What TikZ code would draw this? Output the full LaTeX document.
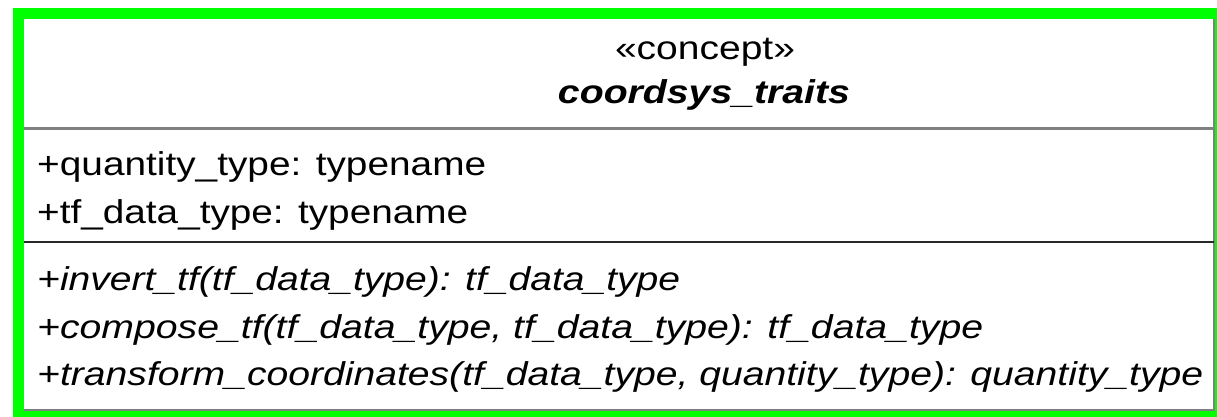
\documentclass[tikz,border=0pt]{standalone}
\usepackage{fontspec}
\setmainfont{Liberation Sans}
\usepackage{graphicx}
\definecolor{framegreen}{RGB}{0,255,0}
\definecolor{sepgray}{RGB}{128,128,128}
\definecolor{sepdark}{RGB}{40,40,40}
\begin{document}
\begin{tikzpicture}[x=1pt,y=-1pt,
  txt/.style={inner sep=0pt, font=\fontsize{33}{40}\selectfont},
  lefttxt/.style={txt, anchor=base west},
  midtxt/.style={txt, anchor=base}]
\useasboundingbox (0,0) rectangle (1217,417);
\fill[white] (0,0) rectangle (1217,417);
% class box
\draw[sepgray, line width=1.5pt] (20,15) rectangle (1214,410);
\draw[sepgray, line width=2pt] (24,128.5) -- (1214,128.5);
\draw[sepdark, line width=2pt] (24,242) -- (1214,242);
% header
\node[midtxt] (stereo) at (705,60) {\resizebox{180pt}{\height}{«concept»}};
\node[midtxt] (cname) at (704,104) {\resizebox{292pt}{\height}{\bfseries\itshape coordsys\_traits}};
% attributes
\node[lefttxt] (attr1) at (37,175) {\resizebox{449pt}{\height}{+quantity\_type: typename}};
\node[lefttxt] (attr2) at (37,223) {\resizebox{431pt}{\height}{+tf\_data\_type: typename}};
% methods
\node[lefttxt] (op1) at (37,290) {\resizebox{643pt}{\height}{\itshape +invert\_tf(tf\_data\_type): tf\_data\_type}};
\node[lefttxt] (op2) at (37,338) {\resizebox{946pt}{\height}{\itshape +compose\_tf(tf\_data\_type, tf\_data\_type): tf\_data\_type}};
\node[lefttxt] (op3) at (37,385) {\resizebox{1166pt}{\height}{\itshape +transform\_coordinates(tf\_data\_type, quantity\_type): quantity\_type}};
% green frame
\draw[framegreen, line width=11pt] (18.5,13.5) rectangle (1220.5,416.5);
\end{tikzpicture}
\end{document}
